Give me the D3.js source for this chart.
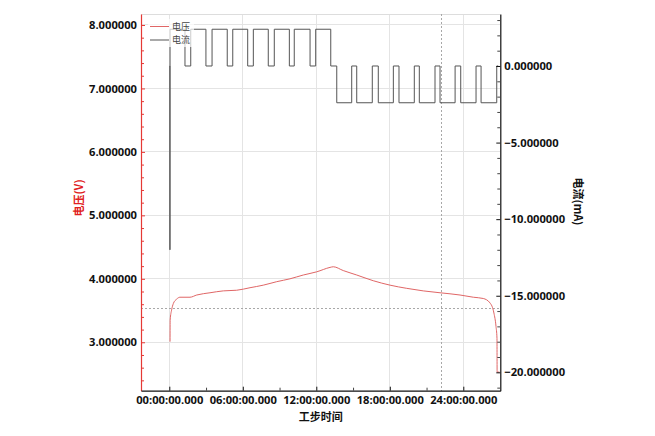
<!DOCTYPE html>
<html>
<head>
<meta charset="utf-8">
<script src="https://cdn.jsdelivr.net/npm/d3@7"></script>
<style>
  html, body { margin: 0; padding: 0; background: #fff; }
  svg { display: block; }
  .tick text { font-family: "Open Sans", "Noto Sans", sans-serif; font-weight: 700; font-size: 11.2px; fill: #111; }
</style>
</head>
<body>
<svg id="chart" width="655" height="436"></svg>
<script>
// ---- data (time in hours) ----
const voltageTime = [0.06, 0.07, 0.19, 0.33, 0.6, 0.87, 1.69, 2.24, 3.32, 4.41, 5.5, 6.59, 7.67, 8.77, 9.85, 10.94, 12.03, 13.12, 13.39, 14.2, 15.3, 16.65, 18.02, 19.38, 20.73, 22.1, 23.73, 24.82, 25.63, 26.18, 26.5, 26.67, 26.75, 26.76, 26.95];
const voltageValue = [3.01, 3.35, 3.51, 3.61, 3.68, 3.71, 3.71, 3.745, 3.78, 3.81, 3.82, 3.86, 3.90, 3.955, 4.00, 4.06, 4.11, 4.18, 4.19, 4.13, 4.06, 3.97, 3.90, 3.85, 3.81, 3.78, 3.745, 3.71, 3.69, 3.62, 3.46, 3.25, 3.06, 2.53, 2.53];

const currentTime = [0.04, 0.05, 0.055, 0.06, 1.28, 1.75, 2.99, 3.49, 4.73, 5.18, 6.40, 6.86, 8.08, 8.57, 9.80, 10.20, 11.49, 11.95, 13.18, 13.67, 14.89, 15.30, 16.57, 17.06, 18.29, 18.75, 20.00, 20.41, 21.69, 22.10, 23.33, 23.79, 25.04, 25.45, 26.73, 26.85];
const currentValue = [0, -12.0, 0, 2.4, 0, 2.4, 0, 2.4, 0, 2.4, 0, 2.4, 0, 2.4, 0, 2.4, 0, 2.4, 0, -2.4, 0, -2.4, 0, -2.4, 0, -2.4, 0, -2.4, 0, -2.4, 0, -2.4, 0, -2.4, 0, 0];

const xTicks = [0, 6, 12, 18, 24];
const xMinorTicks = [3, 9, 15, 21];
const voltTicks = [3, 4, 5, 6, 7, 8];
const currTicks = [0, -5, -10, -15, -20];

const cursorTime = 22.22;
const cursorVoltage = 3.536;

const seriesNames = ["电压", "电流"];
const axisTitles = { x: "工步时间", left: "电压(V)", right: "电流(mA)" };

// ---- layout ----
const L = 141, R = 500.3, T = 14, B = 390.7;
const svg = d3.select("#chart");

const x = d3.scaleLinear().domain([-2.31, 27.02]).range([L, R]);
const yV = d3.scaleLinear().domain([2.237, 8.173]).range([B, T]);
const yI = d3.scaleLinear().domain([-21.2, 3.395]).range([B, T]);

const red = "#e53935";

// grid
const grid = svg.append("g");
grid.selectAll(".gx").data(xTicks).join("line")
  .attr("x1", d => x(d)).attr("x2", d => x(d)).attr("y1", T).attr("y2", B)
  .attr("stroke", "#e4e4e4").attr("stroke-width", 1).attr("shape-rendering", "crispEdges");
grid.selectAll(".gy").data(voltTicks).join("line")
  .attr("x1", L).attr("x2", R).attr("y1", d => yV(d)).attr("y2", d => yV(d))
  .attr("stroke", "#e4e4e4").attr("stroke-width", 1).attr("shape-rendering", "crispEdges");
grid.append("line").attr("x1", L).attr("x2", R).attr("y1", T).attr("y2", T)
  .attr("stroke", "#dddddd").attr("shape-rendering", "crispEdges");

// cursor dashed lines
svg.append("line").attr("x1", x(cursorTime)).attr("x2", x(cursorTime)).attr("y1", T).attr("y2", B)
  .attr("stroke", "#a8a8a8").attr("stroke-dasharray", "2,2").attr("shape-rendering", "crispEdges");
svg.append("line").attr("x1", L).attr("x2", R).attr("y1", yV(cursorVoltage)).attr("y2", yV(cursorVoltage))
  .attr("stroke", "#a8a8a8").attr("stroke-dasharray", "2,2").attr("shape-rendering", "crispEdges");

// series
const vData = voltageTime.map((t, i) => [t, voltageValue[i]]);
const iData = currentTime.map((t, i) => [t, currentValue[i]]);

svg.append("path").datum(iData)
  .attr("fill", "none").attr("stroke", "#555").attr("stroke-width", 1)
  .attr("d", d3.line().x(d => x(d[0])).y(d => yI(d[1])).curve(d3.curveStepAfter));

svg.append("path").datum(vData)
  .attr("fill", "none").attr("stroke", "#e06666").attr("stroke-width", 1)
  .attr("d", d3.line().x(d => x(d[0])).y(d => yV(d[1])).curve(d3.curveMonotoneX));

// axes
const fmtY = d3.format(".6f");
const fmtX = h => String(h).padStart(2, "0") + ":00:00.000";

const gl = svg.append("g").attr("transform", `translate(${L},0)`)
  .call(d3.axisLeft(yV).tickValues(voltTicks).tickFormat(fmtY).tickSizeInner(-4).tickSizeOuter(0).tickPadding(4));
gl.select(".domain").attr("stroke", red).attr("stroke-width", 1.2);
gl.selectAll(".tick line").attr("stroke", red);
const glm = svg.append("g").attr("transform", `translate(${L},0)`)
  .call(d3.axisLeft(yV).tickValues(d3.range(24, 82, 2).map(v => v / 10).filter(v => v % 1 !== 0)).tickFormat("").tickSizeInner(-3).tickSizeOuter(0));
glm.select(".domain").remove();
glm.selectAll(".tick line").attr("stroke", red);

const gr = svg.append("g").attr("transform", `translate(${R},0)`)
  .call(d3.axisRight(yI).tickValues(currTicks).tickFormat(fmtY).tickSizeInner(-4).tickSizeOuter(0).tickPadding(4));
gr.select(".domain").attr("stroke", "#111").attr("stroke-width", 1.2);
gr.selectAll(".tick line").attr("stroke", "#111");
const grm = svg.append("g").attr("transform", `translate(${R},0)`)
  .call(d3.axisRight(yI).tickValues(d3.range(-21, 4, 1).filter(v => v % 5 !== 0)).tickFormat("").tickSizeInner(-3).tickSizeOuter(0));
grm.select(".domain").remove();
grm.selectAll(".tick line").attr("stroke", "#444");

const gb = svg.append("g").attr("transform", `translate(0,${B})`)
  .call(d3.axisBottom(x).tickValues(xTicks).tickFormat(fmtX).tickSizeInner(-4).tickSizeOuter(0).tickPadding(5));
gb.select(".domain").attr("stroke", "#111").attr("stroke-width", 1.2);
gb.selectAll(".tick line").attr("stroke", "#111");
const gbm = svg.append("g").attr("transform", `translate(0,${B})`)
  .call(d3.axisBottom(x).tickValues(xMinorTicks).tickFormat("").tickSizeInner(-3).tickSizeOuter(0));
gbm.select(".domain").remove();
gbm.selectAll(".tick line").attr("stroke", "#444");

// axis titles
const cjk = '"Noto Sans CJK SC", "Noto Sans", sans-serif';
svg.append("text").text(axisTitles.x)
  .attr("x", (L + R) / 2).attr("y", 421).attr("text-anchor", "middle")
  .attr("font-family", cjk).attr("font-weight", 700).attr("font-size", 11).attr("fill", "#111");
svg.append("text").text(axisTitles.left)
  .attr("transform", "translate(78,198) rotate(-90)").attr("text-anchor", "middle").attr("dominant-baseline", "central")
  .attr("font-family", cjk).attr("font-weight", 700).attr("font-size", 11).attr("fill", "#e02020");
svg.append("text").text(axisTitles.right)
  .attr("transform", "translate(579,201.5) rotate(90)").attr("text-anchor", "middle").attr("dominant-baseline", "central")
  .attr("font-family", cjk).attr("font-weight", 700).attr("font-size", 11).attr("fill", "#111");

// legend
const leg = svg.append("g");
leg.append("rect").attr("x", 148).attr("y", 19).attr("width", 46).attr("height", 28)
  .attr("fill", "#fff").attr("opacity", 0.7);
const legColors = ["#e06666", "#555"];
seriesNames.forEach((n, i) => {
  const yy = 26.5 + i * 13.5;
  leg.append("line").attr("x1", 150).attr("x2", 169).attr("y1", yy).attr("y2", yy)
    .attr("stroke", legColors[i]).attr("stroke-width", 1);
  leg.append("text").text(n).attr("x", 172).attr("y", yy + 3.2)
    .attr("font-family", cjk).attr("font-size", 9).attr("fill", "#444");
});
</script>
</body>
</html>
